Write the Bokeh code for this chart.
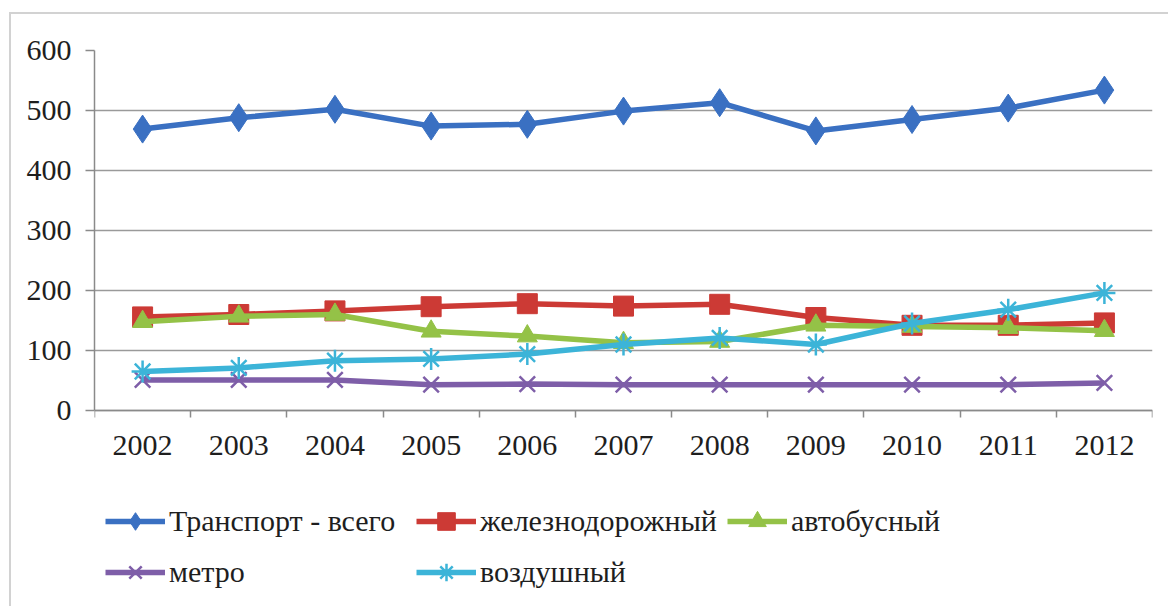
from bokeh.plotting import figure
from bokeh.models import FixedTicker, Legend, LegendItem, Range1d
from bokeh.embed import file_html
from bokeh.resources import INLINE

years = ["2002", "2003", "2004", "2005", "2006", "2007", "2008", "2009", "2010", "2011", "2012"]
total = [469, 488, 502, 474, 477, 499, 513, 466, 485, 504, 534]
rail = [156, 160, 166, 173, 178, 174, 177, 155, 142, 142, 146]
bus = [148, 157, 160, 132, 124, 113, 115, 142, 140, 138, 133]
metro = [51, 51, 51, 43, 44, 43, 43, 43, 43, 43, 46]
air = [65, 71, 83, 86, 94, 110, 121, 110, 145, 168, 196]

y_ticks = [0, 100, 200, 300, 400, 500, 600]

series = [
    ("Транспорт - всего", total, "#3a70c2", "diamond"),
    ("железнодорожный", rail, "#cc3a35", "square"),
    ("автобусный", bus, "#94c247", "triangle"),
    ("метро", metro, "#7e5ea8", "x"),
    ("воздушный", air, "#3cb4d8", "asterisk"),
]

FONT = "Liberation Serif"
xs = list(range(len(years)))

# the frame runs down to the legend; 600 units span 360 px above the zero line
W, H = 1159, 594
TOP, BOTTOM = 36, 10
frame_px = H - TOP - BOTTOM
y_low = 600 - frame_px * 600 / 360

p = figure(
    width=W, height=H,
    x_range=Range1d(-0.5, len(years) - 0.5),
    y_range=Range1d(y_low, 600),
    output_backend="svg", toolbar_location=None,
    min_border_left=83, min_border_right=18,
    min_border_top=TOP, min_border_bottom=BOTTOM,
    margin=(12, 0, 0, 9),
    styles={"border-top": "2px solid #d2d2d2", "border-left": "2px solid #d2d2d2"},
)
p.outline_line_color = None
p.background_fill_color = "white"
p.border_fill_color = "white"

# value axis
p.yaxis.bounds = (0, 600)
p.yaxis.ticker = FixedTicker(ticks=y_ticks)
p.yaxis.axis_line_color = "#8a8a8a"
p.yaxis.axis_line_width = 1.5
p.yaxis.major_tick_line_color = "#8a8a8a"
p.yaxis.major_tick_line_width = 1.5
p.yaxis.major_tick_out = 9
p.yaxis.major_tick_in = 0
p.yaxis.minor_tick_line_color = None
p.yaxis.major_label_standoff = 14
p.yaxis.major_label_text_font = FONT
p.yaxis.major_label_text_font_size = "30px"
p.yaxis.major_label_text_color = "#1e1e1e"

# category axis at zero: labels at centres, tick marks between categories
p.xaxis.fixed_location = 0
p.xaxis.ticker = FixedTicker(ticks=xs, minor_ticks=[i - 0.5 for i in range(len(years) + 1)])
p.xaxis.major_label_overrides = {i: y for i, y in enumerate(years)}
p.xaxis.axis_line_color = "#8a8a8a"
p.xaxis.axis_line_width = 1.5
p.xaxis.major_tick_line_color = None
p.xaxis.minor_tick_line_color = "#8a8a8a"
p.xaxis.minor_tick_line_width = 1.5
p.xaxis.minor_tick_out = 7
p.xaxis.minor_tick_in = 0
p.xaxis.major_tick_out = 0
p.xaxis.major_tick_in = 0
p.xaxis.major_label_standoff = 18
p.xaxis.major_label_text_font = FONT
p.xaxis.major_label_text_font_size = "30px"
p.xaxis.major_label_text_color = "#1e1e1e"

p.xgrid.grid_line_color = None
p.ygrid.ticker = FixedTicker(ticks=y_ticks)
p.ygrid.grid_line_color = "#9a9a9a"
p.ygrid.grid_line_width = 1.5

items = []
for name, vals, color, marker in series:
    ln = p.line(xs, vals, line_color=color, line_width=5.5)
    if marker in ("x", "asterisk"):
        sc = p.scatter(xs, vals, marker=marker, size=22, line_color=color,
                       line_width=2.5, fill_color=None)
    elif marker == "diamond":
        sc = p.scatter(xs, vals, marker="diamond", size=28,
                       fill_color=color, line_color=color)
    else:
        sc = p.scatter(xs, vals, marker=marker, size=20,
                       fill_color=color, line_color=color)
    items.append(LegendItem(label=name, renderers=[ln, sc]))

legend = Legend(
    items=items, orientation="horizontal", ncols=3,
    location=(11, 4),
    label_text_font=FONT, label_text_font_size="30px", label_text_color="#1e1e1e",
    glyph_width=60, glyph_height=44, label_standoff=4, label_width=240,
    spacing=7, padding=0, margin=0,
    border_line_color=None, background_fill_alpha=0,
)
p.add_layout(legend, "center")

open("out.html", "w").write(file_html(p, INLINE))
